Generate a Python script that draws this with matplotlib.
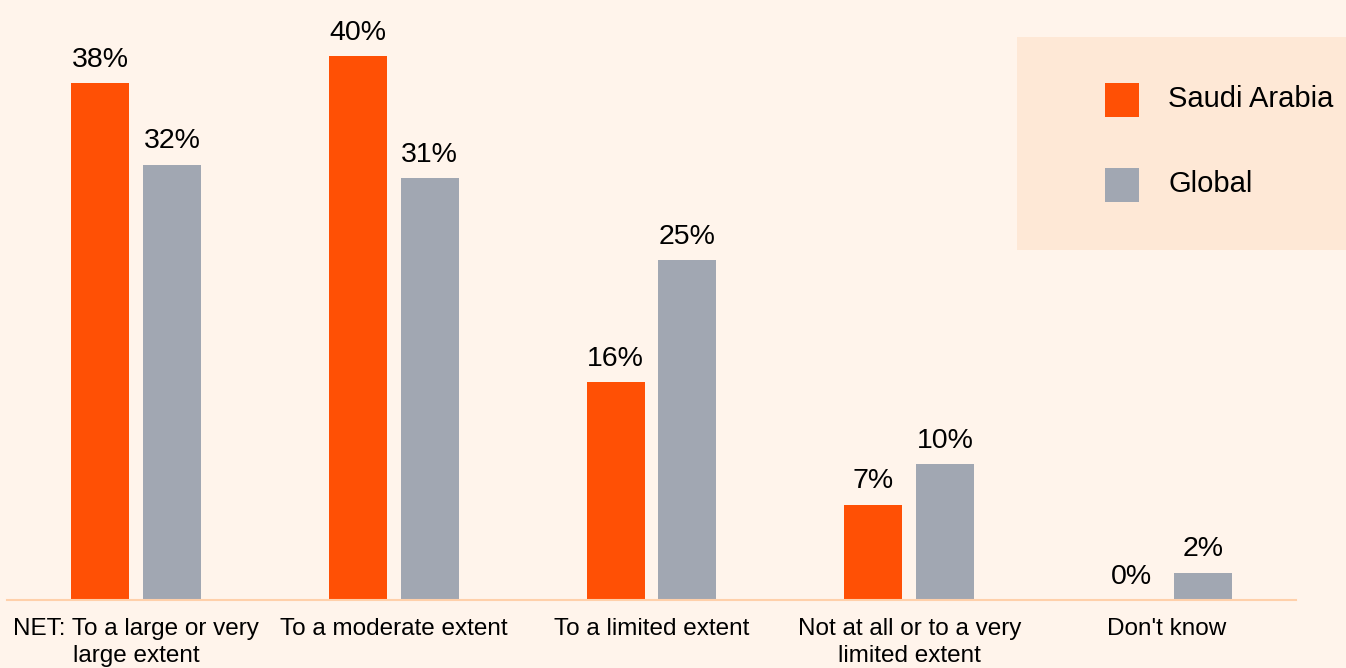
import matplotlib.pyplot as plt
import numpy as np
from matplotlib.patches import Rectangle

## データ
categories = ["NET: To a large or very\nlarge extent", "To a moderate extent",
              "To a limited extent", "Not at all or to a very\nlimited extent",
              "Don't know"]
saudi = [38, 40, 16, 7, 0]
global_ = [32, 31, 25, 10, 2]
series_names = ["Saudi Arabia", "Global"]

bg = "#FFF4EB"
orange = "#FF5005"
gray = "#A1A7B2"

plt.rcParams['font.family'] = ['Liberation Sans', 'DejaVu Sans']

fig = plt.figure(figsize=(13.46, 6.68), dpi=100, facecolor=bg)
ax = fig.add_axes([7 / 1346, 68 / 668, 1289 / 1346, 600 / 668])
ax.set_facecolor(bg)

x = np.arange(len(categories))
w = 58 / 258
off = 36 / 258
b1 = ax.bar(x - off, saudi, w, color=orange)
b2 = ax.bar(x + off, global_, w, color=gray)

for bars, vals in [(b1, saudi), (b2, global_)]:
    for r, v in zip(bars, vals):
        ax.annotate(f"{v}%", (r.get_x() + r.get_width() / 2, v),
                    xytext=(0, 7.5), textcoords='offset points',
                    ha='center', va='bottom', fontsize=20.5)

ax.set_xlim(-0.5, 4.5)
ax.set_ylim(0, 600 / 13.6)
ax.set_xticks(x)
ax.set_xticklabels(categories, fontsize=17.5, linespacing=1.3)
ax.tick_params(axis='x', length=0, pad=13)
ax.set_yticks([])
for s in ['top', 'right', 'left']:
    ax.spines[s].set_visible(False)
ax.spines['bottom'].set_color('#FFD0AA')
ax.spines['bottom'].set_linewidth(1.5)

## 凡例（手書き）
W, H = 1346, 668
fig.patches.append(Rectangle((1017 / W, 1 - 250 / H), 329 / W, 213 / H,
                             transform=fig.transFigure, facecolor='#FEE8D6',
                             edgecolor='none', zorder=0))
for i, (name, c) in enumerate(zip(series_names, [orange, gray])):
    top = 83 + i * 85
    fig.patches.append(Rectangle((1105 / W, 1 - (top + 34) / H), 34 / W, 34 / H,
                                 transform=fig.transFigure, facecolor=c,
                                 edgecolor='none'))
    fig.text(1168 / W, 1 - (top + 16) / H, name, fontsize=21,
             va='center', ha='left')

fig.savefig("out.png", facecolor=bg)
